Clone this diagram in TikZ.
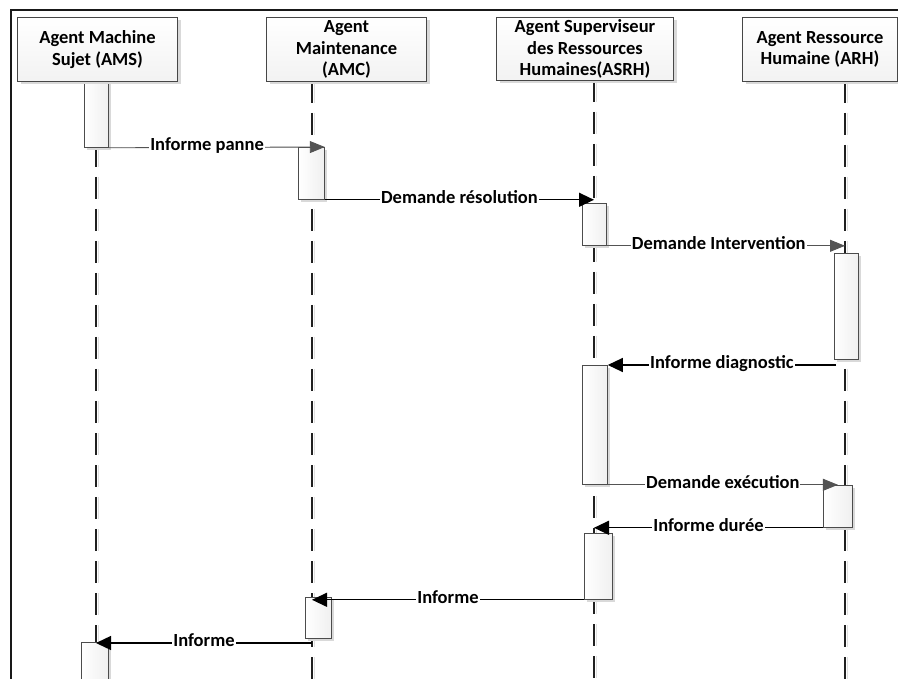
\documentclass[tikz,border=0pt]{standalone}
\usepackage{fontspec}
\setmainfont{Carlito}
\usetikzlibrary{arrows.meta,shadows,calc}
\begin{document}
\begin{tikzpicture}[x=1pt,y=-1pt,
  every node/.style={font=\bfseries\fontsize{18.5}{21.7}\selectfont},
  hdr/.style 2 args={draw=gray!55!black, line width=1pt, top color=white, bottom color=gray!10,
    minimum width=#1, minimum height=#2, anchor=north west, inner sep=0pt, align=center,
    drop shadow={shadow xshift=3pt, shadow yshift=-3pt, fill=gray!30, opacity=1}},
  actbox/.style 2 args={draw=gray!60!black, line width=0.8pt, left color=white, right color=gray!12,
    minimum width=#1, minimum height=#2, anchor=north west, inner sep=0pt,
    drop shadow={shadow xshift=2.5pt, shadow yshift=-2.5pt, fill=gray!30, opacity=1}},
  life/.style={draw=gray!25!black, line width=1.8pt, dash pattern=on 22pt off 10pt},
  lifeshadow/.style={draw=gray!25, line width=1.8pt, dash pattern=on 22pt off 10pt},
  amsg/.style={draw=gray!65!black, line width=0.9pt, -{Triangle[length=15pt,width=12pt]}, fill=gray!75!black},
  smsg/.style={draw=black, line width=1.3pt, -{Triangle[length=15pt,width=14pt]}},
  lbl/.style={fill=white, inner xsep=1pt, inner ysep=0pt, text height=0.75em, text depth=0.1em}
]
\useasboundingbox (0,0) rectangle (898,679);
\begin{scope}
\clip (0,0) rectangle (898,679);
% frame
\draw[gray!20!black, line width=1.5pt] (11,690) -- (11,10) -- (905,10);

% lifeline origins
\coordinate (l1) at (96,81);
\coordinate (l2) at (312,81);
\coordinate (l3) at (594,80);
\coordinate (l4) at (845,81);
\coordinate (bot) at (0,690);

\foreach \l in {l1,l2,l3,l4}{
  \draw[lifeshadow] ($(\l)+(2.5,0)$) -- ($(\l |- bot)+(2.5,0)$);
  \draw[life] (\l) -- (\l |- bot);
}

% activation boxes
\node[actbox={24}{66}] (amsA) at (84,81) {};
\node[actbox={26}{52}] (amcA) at (298,147) {};
\node[actbox={24}{42}] (asrhA) at (582,203) {};
\node[actbox={24}{106}] (arhA) at (834,253) {};
\node[actbox={25}{119}] (asrhB) at (582,365) {};
\node[actbox={29}{42}] (arhB) at (823,485) {};
\node[actbox={28}{66}] (asrhC) at (584,533) {};
\node[actbox={26}{41}] (amcB) at (305,597) {};
\node[actbox={27}{50}] (amsB) at (81,642) {};

% messages
\draw[amsg] (amsA.south east) -- node[lbl,pos=0.455]{Informe panne} (amcA.north east);
\draw[smsg] (amcA.south east) -- node[lbl]{Demande résolution} (amcA.south east -| l3);
\draw[amsg] (asrhA.south east) -- node[lbl,pos=0.47]{Demande Intervention} (asrhA.south east -| l4);
\draw[smsg] ($(asrhB.north east -| arhA.south west)+(2,0)$) -- node[lbl]{Informe diagnostic} (asrhB.north east);
\draw[amsg] (asrhB.south east) -- node[lbl]{Demande exécution} (asrhB.south east -| arhB.north);
\draw[smsg] (arhB.south west) -- node[lbl]{Informe durée} (arhB.south west -| l3);
\draw[smsg] (asrhC.south west) -- node[lbl]{Informe} (asrhC.south west -| l2);
\draw[smsg] ($(amsB.north -| l2)+(0,1)$) -- node[lbl]{Informe} ($(amsB.north -| l1)+(0,1)$);

% headers
\node[hdr={160}{64}] (ams) at (17,17) {Agent Machine\\Sujet (AMS)};
\node[hdr={160}{64}] (amc) at (266,17) {Agent\\Maintenance\\(AMC)};
\node[hdr={177}{63}] (asrh) at (496,17) {Agent Superviseur\\des Ressources\\Humaines(ASRH)};
\node[hdr={155}{64}] (arh) at (742,17) {Agent Ressource\\Humaine (ARH)};
\end{scope}
\end{tikzpicture}
\end{document}
